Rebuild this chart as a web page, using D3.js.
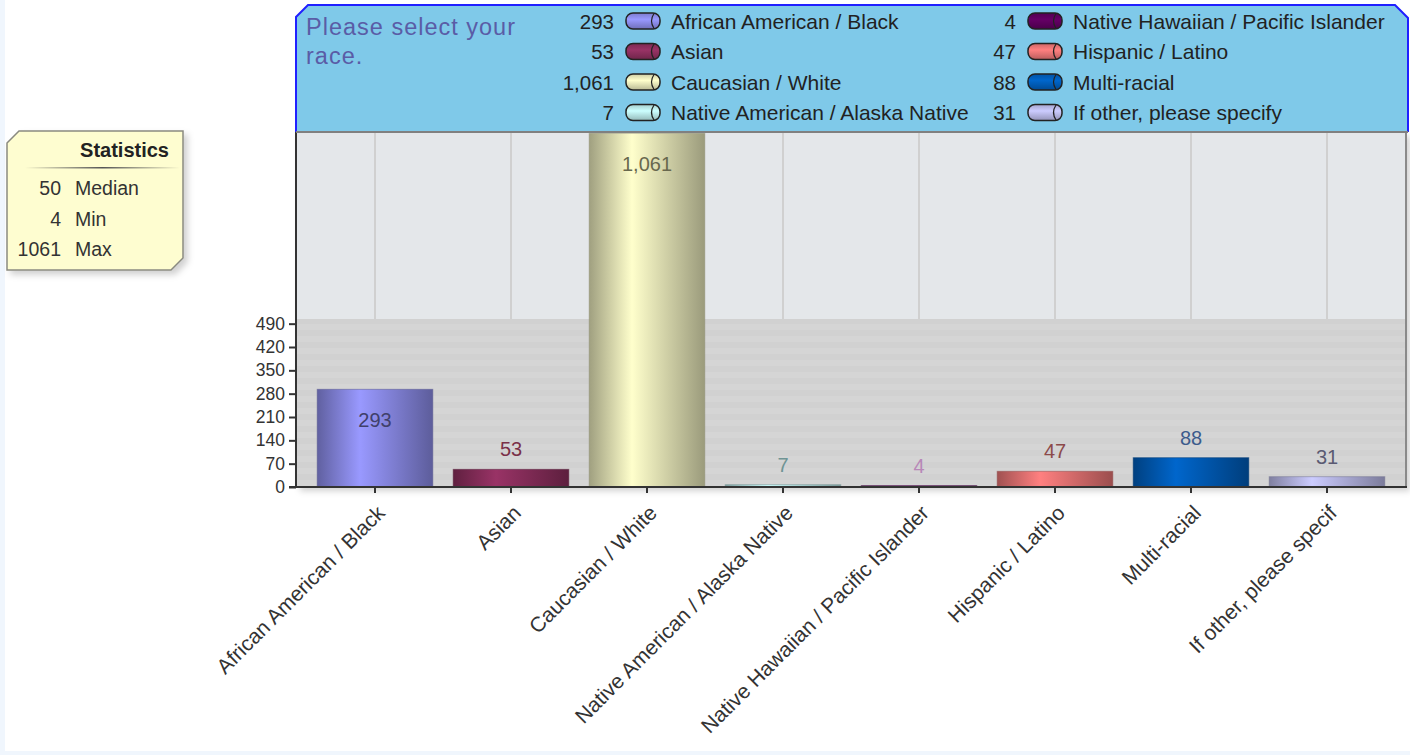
<!DOCTYPE html>
<html>
<head>
<meta charset="utf-8">
<script src="https://cdn.jsdelivr.net/npm/d3@7"></script>
<style>
  body { margin:0; background:#ffffff; }
  text { font-family: Arial, "Liberation Sans", sans-serif; }
</style>
</head>
<body>
<div id="chart"></div>
<script>

var categories = ["African American / Black", "Asian", "Caucasian / White", "Native American / Alaska Native",
                  "Native Hawaiian / Pacific Islander", "Hispanic / Latino", "Multi-racial", "If other, please specify"];
var axisLabels = ["African American / Black", "Asian", "Caucasian / White", "Native American / Alaska Native",
                  "Native Hawaiian / Pacific Islander", "Hispanic / Latino", "Multi-racial", "If other, please specif"];
var counts = [293, 53, 1061, 7, 4, 47, 88, 31];
var yTicks = [0, 70, 140, 210, 280, 350, 420, 490];
var questionLines = ["Please select your", "race."];
var statNames = ["Median", "Min", "Max"];
var statValues = [50, 4, 1061];

// colours (not data)
var barColors = ["#9999ff", "#993366", "#ffffcc", "#ccffff", "#660066", "#ff8080", "#0066cc", "#ccccff"];
var labelColors = ["#40406a", "#7a3048", "#68684e", "#6f9494", "#b888b8", "#8c4a4a", "#3c5c8c", "#5a5a72"];

var width = 1410, height = 755;
var plotLeft = 296, plotRight = 1406, plotTop = 132, baseY = 487;

var svg = d3.select("#chart").append("svg").attr("width", width).attr("height", height);
var defs = svg.append("defs");

// page frame
svg.append("rect").attr("x", 0).attr("y", 0).attr("width", 5).attr("height", height).attr("fill", "#f0f6fd");
svg.append("rect").attr("x", 0).attr("y", 751).attr("width", width).attr("height", 4).attr("fill", "#f0f6fd");

var shadow = defs.append("filter").attr("id", "shadow").attr("x", "-10%").attr("y", "-10%").attr("width", "130%").attr("height", "130%");
shadow.append("feDropShadow").attr("dx", 4).attr("dy", 4).attr("stdDeviation", 3)
    .attr("flood-color", "#000").attr("flood-opacity", 0.18);

var x = d3.scaleBand().domain(categories).range([307, 1395]).paddingInner(0.15).paddingOuter(0.075);
var y = d3.scaleLinear().domain([0, 504]).range([baseY, 319]);

// gradients for bars and legend swatches
barColors.forEach(function(c, i) {
    var g = defs.append("linearGradient").attr("id", "bar" + i).attr("x1", "0%").attr("x2", "100%");
    g.append("stop").attr("offset", "0%").attr("stop-color", d3.color(c).darker(1.3));
    g.append("stop").attr("offset", "37%").attr("stop-color", c);
    g.append("stop").attr("offset", "100%").attr("stop-color", d3.color(c).darker(1.4));
    var s = defs.append("linearGradient").attr("id", "sw" + i).attr("x1", "0%").attr("x2", "0%").attr("y1", "0%").attr("y2", "100%");
    s.append("stop").attr("offset", "0%").attr("stop-color", d3.color(c).darker(0.6));
    s.append("stop").attr("offset", "40%").attr("stop-color", c);
    s.append("stop").attr("offset", "100%").attr("stop-color", d3.color(c).darker(0.9));
});

var stripes = defs.append("pattern").attr("id", "stripes").attr("patternUnits", "userSpaceOnUse")
    .attr("width", 10).attr("height", 12);
stripes.append("rect").attr("width", 10).attr("height", 12).attr("fill", "#d1d1d1");
stripes.append("rect").attr("y", 0).attr("width", 10).attr("height", 6).attr("fill", "#d5d5d5");

// plot background
svg.append("rect").attr("x", plotLeft).attr("y", plotTop).attr("width", plotRight - plotLeft).attr("height", baseY - plotTop)
    .attr("fill", "#e4e7ea").attr("filter", "url(#shadow)");
svg.append("rect").attr("x", plotLeft).attr("y", y(504)).attr("width", plotRight - plotLeft).attr("height", baseY - y(504))
    .attr("fill", "url(#stripes)");

svg.append("g").selectAll("line").data(categories).enter().append("line")
    .attr("x1", function(d) { return x(d) + x.bandwidth() / 2; })
    .attr("x2", function(d) { return x(d) + x.bandwidth() / 2; })
    .attr("y1", plotTop).attr("y2", y(504))
    .attr("stroke", "#d0d0d0").attr("stroke-width", 2);

svg.append("line").attr("x1", plotRight).attr("x2", plotRight).attr("y1", plotTop).attr("y2", baseY)
    .attr("stroke", "#8a8a8a").attr("stroke-width", 2);

// bars
svg.append("g").selectAll("rect").data(counts).enter().append("rect")
    .attr("x", function(d, i) { return x(categories[i]); })
    .attr("y", function(d) { return y(d); })
    .attr("width", x.bandwidth())
    .attr("height", function(d) { return baseY - y(d); })
    .attr("fill", function(d, i) { return "url(#bar" + i + ")"; })
    .attr("stroke", function(d, i) { return d3.color(barColors[i]).darker(1.6); })
    .attr("stroke-opacity", 0.5).attr("stroke-width", 1);

svg.append("g").selectAll("text").data(counts).enter().append("text")
    .attr("x", function(d, i) { return x(categories[i]) + x.bandwidth() / 2; })
    .attr("y", function(d) { return (baseY - y(d) > 60) ? y(d) + 31 : y(d) - 20; })
    .attr("text-anchor", "middle").attr("dominant-baseline", "central")
    .attr("font-size", "20px")
    .attr("fill", function(d, i) { return labelColors[i]; })
    .text(function(d) { return d3.format(",")(d); });

// axes
var yAxis = svg.append("g").attr("transform", "translate(" + plotLeft + ",0)")
    .call(d3.axisLeft(y).tickValues(yTicks).tickSize(7).tickPadding(4));
yAxis.select(".domain").remove();
yAxis.selectAll("line").attr("stroke", "#333").attr("stroke-width", 2);
yAxis.selectAll("text").attr("font-size", "17.5px").attr("fill", "#333").attr("font-family", "Arial, 'Liberation Sans', sans-serif");
svg.append("line").attr("x1", plotLeft).attr("x2", plotLeft).attr("y1", plotTop).attr("y2", baseY + 1)
    .attr("stroke", "#333").attr("stroke-width", 2);

var xAxis = svg.append("g").attr("transform", "translate(0," + baseY + ")")
    .call(d3.axisBottom(x).tickSize(6).tickFormat(function(d, i) { return axisLabels[i]; }));
xAxis.select(".domain").remove();
xAxis.selectAll("line").attr("stroke", "#333").attr("stroke-width", 2);
xAxis.selectAll("text")
    .attr("font-size", "21px").attr("fill", "#333").attr("font-family", "Arial, 'Liberation Sans', sans-serif")
    .attr("text-anchor", "end").attr("dy", "0.35em")
    .attr("transform", "translate(6,22) rotate(-45)").attr("y", 0).attr("x", 0);
svg.append("line").attr("x1", plotLeft - 7).attr("x2", plotRight + 1).attr("y1", baseY).attr("y2", baseY)
    .attr("stroke", "#333").attr("stroke-width", 2);

// header / legend box
svg.append("polygon")
    .attr("points", "296,17 308,5 1395,5 1408,18 1408,132 296,132")
    .attr("fill", "#7fc9e9");
svg.append("polyline")
    .attr("points", "296,132 296,17 308,5 1395,5 1408,18 1408,132")
    .attr("fill", "none").attr("stroke", "#2020ff").attr("stroke-width", 2);
svg.append("line").attr("x1", 296).attr("x2", 1408).attr("y1", 132).attr("y2", 132)
    .attr("stroke", "#808080").attr("stroke-width", 2);

svg.append("g").selectAll("text").data(questionLines).enter().append("text")
    .attr("x", 306).attr("y", function(d, i) { return 27 + i * 29; })
    .attr("dominant-baseline", "central")
    .attr("font-family", "'DejaVu Sans', Verdana, sans-serif").attr("font-size", "23.5px")
    .attr("letter-spacing", "1px")
    .attr("fill", "#5a5ca6")
    .text(function(d) { return d; });

var legend = svg.append("g").selectAll("g").data(categories).enter().append("g")
    .attr("transform", function(d, i) {
        var col = Math.floor(i / 4), row = i % 4;
        return "translate(" + (col === 0 ? 614 : 1016) + "," + (21 + row * 30.5) + ")";
    });
legend.append("text").attr("x", 0).attr("text-anchor", "end").attr("dominant-baseline", "central")
    .attr("font-size", "20.5px").attr("fill", "#222")
    .text(function(d, i) { return d3.format(",")(counts[i]); });
legend.append("rect").attr("x", 12).attr("y", -8).attr("width", 34).attr("height", 16).attr("rx", 7)
    .attr("fill", function(d, i) { return "url(#sw" + i + ")"; })
    .attr("stroke", "#222").attr("stroke-width", 1.5);
legend.append("path").attr("d", "M40,-7.5 Q35,0 40,7.5")
    .attr("fill", "none").attr("stroke", "#222").attr("stroke-width", 1.2);
legend.append("text").attr("x", 57).attr("dominant-baseline", "central")
    .attr("font-size", "21px").attr("fill", "#222")
    .text(function(d) { return d; });

// statistics box
var stats = svg.append("g");
stats.append("polygon").attr("points", "7,143 19,131 183,131 183,258 171,270 7,270")
    .attr("fill", "#fefdd0").attr("stroke", "#8a8a80").attr("stroke-width", 1.5)
    .attr("filter", "url(#shadow)");
stats.append("text").attr("x", 169).attr("y", 150).attr("text-anchor", "end").attr("dominant-baseline", "central")
    .attr("font-size", "20px").attr("font-weight", "bold").attr("fill", "#222").text("Statistics");
var sep = defs.append("linearGradient").attr("id", "sep");
sep.append("stop").attr("offset", "0%").attr("stop-color", "#fefdd0");
sep.append("stop").attr("offset", "50%").attr("stop-color", "#555");
sep.append("stop").attr("offset", "100%").attr("stop-color", "#fefdd0");
stats.append("rect").attr("x", 25).attr("y", 167).attr("width", 155).attr("height", 1.5).attr("fill", "url(#sep)");
var statRows = stats.selectAll(".row").data(statNames).enter().append("g").attr("class", "row")
    .attr("transform", function(d, i) { return "translate(0," + (188 + i * 30.5) + ")"; });
statRows.append("text").attr("x", 61).attr("text-anchor", "end").attr("dominant-baseline", "central")
    .attr("font-size", "19.5px").attr("fill", "#333").text(function(d, i) { return statValues[i]; });
statRows.append("text").attr("x", 75).attr("dominant-baseline", "central")
    .attr("font-size", "19.5px").attr("fill", "#333").text(function(d) { return d; });

</script>
</body>
</html>
